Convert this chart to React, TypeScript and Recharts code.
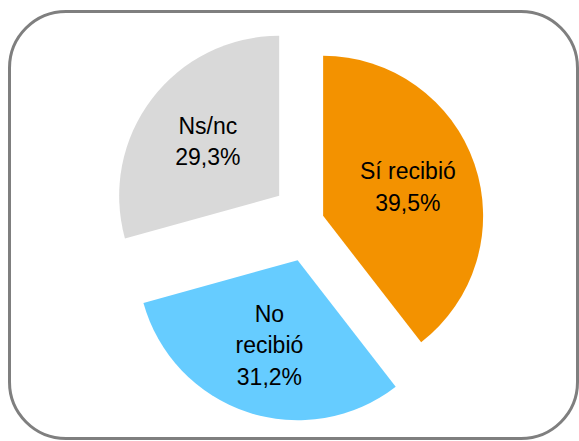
import { PieChart, Pie, Cell } from 'recharts';

const categories = ['Sí recibió', 'No recibió', 'Ns/nc'];
const shares = [39.5, 31.2, 29.3];
const colors = ['#F39200', '#66CCFF', '#D9D9D9'];

// how far each slice is pulled out, as a fraction of the radius
const EXPLODE = [0.08, 0.265, 0.25];

// where the label text breaks onto a new line
const LABEL_LINES: Record<string, string[]> = {
  'No recibió': ['No', 'recibió'],
};

const RADIAN = Math.PI / 180;
const CX = 311;
const CY = 220;
const RADIUS = 160;
const LINE_HEIGHT = 31.5;

const chartData = categories.map((name, i) => ({ name, value: shares[i] }));
const total = shares.reduce((a, b) => a + b, 0);

// mid angle of every slice, same convention as recharts (start at 12 o'clock, clockwise)
const midAngles = shares.map((v, i) => {
  const before = shares.slice(0, i).reduce((a, b) => a + b, 0);
  return 90 - (360 * (before + v / 2)) / total;
});

const makeLabel = (only: number) => (props: any) => {
  const { cx, cy, outerRadius, midAngle, name, value, index } = props;
  if (index !== only) return null;
  const dist = outerRadius * 0.56;
  const x = cx + Math.cos(midAngle * RADIAN) * dist;
  const y = cy - Math.sin(midAngle * RADIAN) * dist;
  const lines = [...(LABEL_LINES[name] ?? [name]), `${value.toFixed(1).replace('.', ',')}%`];
  const top = y - ((lines.length - 1) * LINE_HEIGHT) / 2;
  return (
    <text
      key={`label-${index}`}
      x={x}
      y={top}
      textAnchor="middle"
      dominantBaseline="central"
      fill="#000000"
      fontSize={23}
      fontFamily="'Liberation Sans', Arial, sans-serif"
    >
      {lines.map((line, i) => (
        <tspan key={i} x={x} y={top + i * LINE_HEIGHT}>
          {line}
        </tspan>
      ))}
    </text>
  );
};

export default function App() {
  return (
    <div style={{ position: 'absolute', left: 0, top: 0, width: 579, height: 441, background: '#ffffff' }}>
      <div
        style={{
          position: 'absolute',
          left: 8,
          top: 10,
          width: 571,
          height: 430,
          boxSizing: 'border-box',
          border: '3px solid #7F7F7F',
          borderRadius: 58,
        }}
      />
      <div style={{ position: 'absolute', left: 0, top: 0 }}>
        <PieChart width={579} height={441} margin={{ top: 0, right: 0, bottom: 0, left: 0 }}>
          {categories.map((cat, k) => {
            const d = EXPLODE[k] * RADIUS;
            const cx = CX + Math.cos(midAngles[k] * RADIAN) * d;
            const cy = CY - Math.sin(midAngles[k] * RADIAN) * d;
            return (
              <Pie
                key={cat}
                data={chartData}
                dataKey="value"
                nameKey="name"
                cx={cx}
                cy={cy}
                outerRadius={RADIUS}
                startAngle={90}
                endAngle={-270}
                stroke="none"
                labelLine={false}
                label={makeLabel(k)}
                isAnimationActive={false}
              >
                {chartData.map((row, i) => (
                  <Cell key={row.name} fill={i === k ? colors[i] : 'transparent'} />
                ))}
              </Pie>
            );
          })}
        </PieChart>
      </div>
    </div>
  );
}
